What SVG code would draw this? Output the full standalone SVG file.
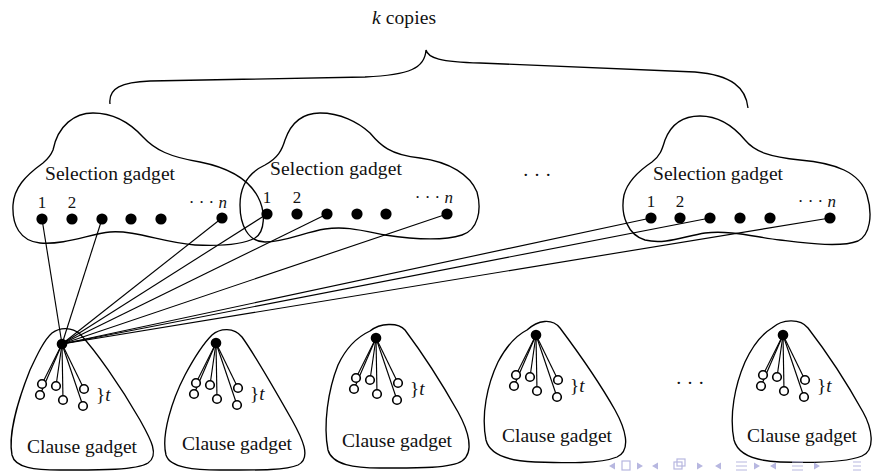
<svg xmlns="http://www.w3.org/2000/svg" width="873" height="471" viewBox="0 0 873 471">
  <style>
    .outline { fill: none; stroke: #000; stroke-width: 1.35; }
    .edge { stroke: #000; stroke-width: 1.15; fill: none; }
    .dot { fill: #000; }
    .lbl { font-family: "Liberation Serif", "DejaVu Serif", serif; fill: #111; }
    .title { font-size: 19.5px; }
    .num { font-size: 17px; }
    .it { font-style: italic; }
    .nav { fill: #b7b7e0; stroke: none; }
    .navs { fill: none; stroke: #b7b7e0; stroke-width: 1.2; }
  </style>
  <defs>
    <!-- literal fan inside a clause gadget: one vertex joined to six literal circles -->
    <g id="fan">
      <g class="edge">
        <line x1="0" y1="0" x2="-20" y2="40"/>
        <line x1="0" y1="0" x2="-22" y2="51"/>
        <line x1="0" y1="0" x2="-6" y2="42"/>
        <line x1="0" y1="0" x2="1" y2="56"/>
        <line x1="0" y1="0" x2="22" y2="45"/>
        <line x1="0" y1="0" x2="21" y2="62"/>
      </g>
      <g fill="#fff" stroke="#000" stroke-width="1.6">
        <circle cx="-20" cy="40" r="4.3"/>
        <circle cx="-22" cy="51" r="4.3"/>
        <circle cx="-6" cy="42" r="4.3"/>
        <circle cx="1" cy="56" r="4.3"/>
        <circle cx="22" cy="45" r="4.3"/>
        <circle cx="21" cy="62" r="4.3"/>
      </g>
      <circle class="dot" cx="0" cy="0" r="5.3"/>
      <text class="lbl" x="34" y="57" font-size="19">}<tspan class="it">t</tspan></text>
    </g>
  </defs>

  <!-- brace over the k selection gadgets -->
  <g id="brace">
    <path class="outline" d="M110,104 C108,88 122,82 150,81 L365,77 C410,75 425,68 426,50 C428,58 440,62 480,63 L695,72 C732,75 746,88 748,108"/>
    <text class="lbl title" x="404" y="24" text-anchor="middle" textLength="64" lengthAdjust="spacing"><tspan class="it">k</tspan> copies</text>
  </g>

  <!-- selection gadget 1 -->
  <g id="sel1">
    <path class="outline" d="M53,150 C58,125 75,113 93,113 C115,113 132,125 143,137 C155,150 170,157 200,162 C225,167 248,178 258,197 C266,212 265,232 255,238 C240,246 215,246 195,245 C165,243 135,230 110,232 C90,234 65,245 40,243 C20,241 12,225 13,205 C14,188 25,176 43,163 C49,158 51,155 53,150 Z"/>
    <text class="lbl title" x="110" y="180" text-anchor="middle" textLength="130" lengthAdjust="spacing">Selection gadget</text>
    <text class="lbl num" x="42" y="208" text-anchor="middle">1</text>
    <text class="lbl num" x="72" y="208" text-anchor="middle">2</text>
    <text class="lbl num" x="227" y="208" text-anchor="end">· · ·  <tspan class="it">n</tspan></text>
    <circle class="dot" cx="42" cy="219" r="5.6"/>
    <circle class="dot" cx="72" cy="219" r="5.6"/>
    <circle class="dot" cx="102" cy="219" r="5.6"/>
    <circle class="dot" cx="131" cy="219" r="5.6"/>
    <circle class="dot" cx="161" cy="219" r="5.6"/>
    <circle class="dot" cx="222" cy="218" r="5.6"/>
  </g>

  <!-- selection gadget 2 -->
  <g id="sel2">
    <path class="outline" d="M285,140 C292,120 305,113 320,113 C340,113 358,122 370,133 C380,145 390,155 420,158 C450,162 470,175 477,192 C482,210 478,230 462,235 C440,242 405,238 385,235 C360,230 345,226 325,229 C305,232 285,242 265,242 C248,242 240,225 240,205 C240,185 250,172 265,165 C278,158 282,150 285,140 Z"/>
    <text class="lbl title" x="336" y="175" text-anchor="middle" textLength="132" lengthAdjust="spacing">Selection gadget</text>
    <text class="lbl num" x="267" y="203" text-anchor="middle">1</text>
    <text class="lbl num" x="297" y="203" text-anchor="middle">2</text>
    <text class="lbl num" x="453" y="203" text-anchor="end">· · ·  <tspan class="it">n</tspan></text>
    <circle class="dot" cx="267" cy="214" r="5.6"/>
    <circle class="dot" cx="297" cy="214" r="5.6"/>
    <circle class="dot" cx="327" cy="214" r="5.6"/>
    <circle class="dot" cx="357" cy="214" r="5.6"/>
    <circle class="dot" cx="386" cy="214" r="5.6"/>
    <circle class="dot" cx="447" cy="214" r="5.6"/>
  </g>

  <text class="lbl title" x="537" y="181" text-anchor="middle">· · ·</text>

  <!-- selection gadget k -->
  <g id="sel3">
    <path class="outline" d="M665,140 C672,122 685,116 700,116 C720,116 735,128 745,140 C755,152 770,157 800,160 C835,163 860,172 867,195 C873,215 870,235 858,241 C840,248 805,243 780,240 C755,237 730,230 705,233 C685,236 665,245 645,240 C628,235 620,215 624,195 C628,180 640,170 652,162 C660,156 662,150 665,140 Z"/>
    <text class="lbl title" x="718" y="180" text-anchor="middle" textLength="130" lengthAdjust="spacing">Selection gadget</text>
    <text class="lbl num" x="651" y="207" text-anchor="middle">1</text>
    <text class="lbl num" x="680" y="207" text-anchor="middle">2</text>
    <text class="lbl num" x="836" y="207" text-anchor="end">· · ·  <tspan class="it">n</tspan></text>
    <circle class="dot" cx="651" cy="218" r="5.6"/>
    <circle class="dot" cx="680" cy="218" r="5.6"/>
    <circle class="dot" cx="710" cy="218" r="5.6"/>
    <circle class="dot" cx="740" cy="218" r="5.6"/>
    <circle class="dot" cx="770" cy="218" r="5.6"/>
    <circle class="dot" cx="830" cy="218" r="5.6"/>
  </g>

  <!-- connectors from the first clause vertex to the selection vertices -->
  <g id="connectors" class="edge">
    <line x1="62" y1="344" x2="42" y2="219"/>
    <line x1="62" y1="344" x2="102" y2="219"/>
    <line x1="62" y1="344" x2="222" y2="218"/>
    <line x1="62" y1="344" x2="267" y2="214"/>
    <line x1="62" y1="344" x2="327" y2="214"/>
    <line x1="62" y1="344" x2="447" y2="214"/>
    <line x1="62" y1="344" x2="651" y2="218"/>
    <line x1="62" y1="344" x2="710" y2="218"/>
    <line x1="62" y1="344" x2="830" y2="218"/>
  </g>

  <!-- clause gadgets -->
  <g id="clause1">
    <path class="outline" d="M52,333 C60,327 72,327 80,334 C95,350 120,385 140,420 C150,438 160,455 148,463 C135,471 90,470 60,470 C35,470 15,468 12,455 C8,435 18,400 30,370 C37,355 44,340 52,333 Z"/>
    <use href="#fan" x="62" y="344"/>
    <text class="lbl title" x="82" y="453" text-anchor="middle" textLength="110" lengthAdjust="spacing">Clause gadget</text>
  </g>
  <g id="clause2">
    <path class="outline" d="M212,335 C220,328 234,327 242,337 C255,355 275,390 292,420 C302,438 312,458 298,465 C285,471 250,470 220,470 C195,470 170,468 166,455 C161,435 172,400 185,375 C193,360 202,345 212,335 Z"/>
    <use href="#fan" x="216" y="343"/>
    <text class="lbl title" x="237" y="450" text-anchor="middle" textLength="110" lengthAdjust="spacing">Clause gadget</text>
  </g>
  <g id="clause3">
    <path class="outline" d="M370,331 C380,323 398,322 405,330 C420,350 440,380 458,412 C468,430 475,452 462,461 C450,469 410,468 380,468 C355,468 332,465 328,450 C323,425 328,390 338,365 C345,350 355,338 370,331 Z"/>
    <use href="#fan" x="376" y="338"/>
    <text class="lbl title" x="397" y="447" text-anchor="middle" textLength="110" lengthAdjust="spacing">Clause gadget</text>
  </g>
  <g id="clause4">
    <path class="outline" d="M527,330 C538,320 552,318 560,328 C575,348 598,380 615,410 C625,428 632,450 617,457 C600,464 565,463 535,462 C510,461 490,456 486,440 C481,415 487,385 498,362 C506,347 515,336 527,330 Z"/>
    <use href="#fan" x="536" y="335"/>
    <text class="lbl title" x="557" y="442" text-anchor="middle" textLength="110" lengthAdjust="spacing">Clause gadget</text>
  </g>

  <text class="lbl title" x="690" y="389" text-anchor="middle">· · ·</text>

  <g id="clause5">
    <path class="outline" d="M772,328 C782,319 800,318 808,328 C825,350 848,385 863,412 C872,428 876,450 862,456 C845,463 810,463 780,462 C755,461 738,455 734,440 C729,415 735,385 745,362 C752,347 762,334 772,328 Z"/>
    <use href="#fan" x="783" y="335"/>
    <text class="lbl title" x="802" y="442" text-anchor="middle" textLength="110" lengthAdjust="spacing">Clause gadget</text>
  </g>

  <!-- slide navigation symbols -->
  <g id="navigation">
    <path class="nav" d="M609,466 L615,462.5 L615,469.5 Z"/>
    <rect class="navs" x="622" y="461" width="8" height="9"/>
    <path class="nav" d="M643,466 L637,462.5 L637,469.5 Z"/>
    <path class="nav" d="M652,466 L658,462.5 L658,469.5 Z"/>
    <rect class="navs" x="677" y="459" width="8" height="7"/>
    <rect class="navs" x="674" y="462" width="8" height="7"/>
    <path class="nav" d="M703,466 L697,462.5 L697,469.5 Z"/>
    <path class="nav" d="M715,466 L721,462.5 L721,469.5 Z"/>
    <path class="navs" d="M736,462 H747 M736,466 H747 M736,470 H747"/>
    <path class="nav" d="M760,466 L754,462.5 L754,469.5 Z"/>
    <path class="nav" d="M770,466 L776,462.5 L776,469.5 Z"/>
    <path class="navs" d="M792,462 H803 M792,466 H803 M792,470 H803"/>
    <path class="nav" d="M820,466 L814,462.5 L814,469.5 Z"/>
    <path class="navs" d="M853,462 H861 M853,466 H861 M853,470 H861"/>
  </g>
</svg>
